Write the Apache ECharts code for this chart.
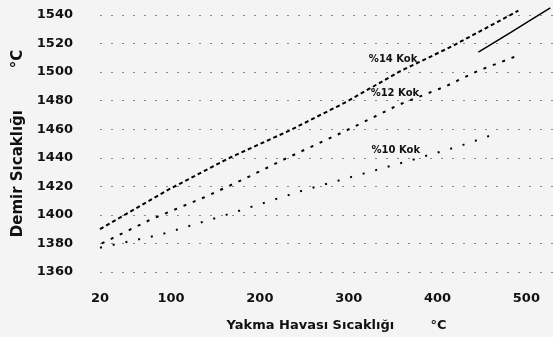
<!DOCTYPE html>
<html>
<head>
<meta charset="utf-8">
<script src="https://cdn.jsdelivr.net/npm/echarts@6/dist/echarts.min.js"></script>
<style>html,body{margin:0;padding:0;background:#f4f4f4;}#c{width:553px;height:337px;}</style>
</head>
<body>
<div id="c"></div>
<script>
// X: Yakma Havası Sıcaklığı (°C), Y: Demir Sıcaklığı (°C)
const xTicks = [20, 100, 200, 300, 400, 500];
const lineA = [[20,1390],[98,1418],[166,1440],[233,1459],[297,1479],[356,1500],[416,1518],[491,1543]];
const lineB = [[22,1380],[78,1397],[140,1413],[185,1426],[231,1440],[297,1459],[356,1477],[409,1490],[446,1501],[488,1511]];
const lineC = [[20,1377],[87,1386],[162,1400],[248,1417],[323,1430],[374,1439],[424,1448],[466,1457]];
const lineD = [[446,1514],[483,1528],[506,1537],[527,1545]];
const lineLabels = ['%14 Kok', '%12 Kok', '%10 Kok'];
const labelPos = [[350,1509],[352,1485],[353,1445]];

const FONT = 'DejaVu Sans';
const chart = echarts.init(document.getElementById('c'), null, {renderer: 'canvas'});

function lbl(i) {
  return {
    symbol: 'rect', symbolSize: [1, 1],
    itemStyle: {color: 'rgba(0,0,0,0)'},
    data: [{coord: labelPos[i], value: lineLabels[i]}],
    label: {show: true, formatter: lineLabels[i], color: '#111', fontFamily: FONT, fontWeight: 'bold', fontSize: 10, position: 'inside'}
  };
}

chart.setOption({
  backgroundColor: '#f4f4f4',
  animation: false,
  grid: {left: 100, right: -2, top: 15, bottom: 61},
  xAxis: {
    type: 'value', min: 20, max: 530,
    name: 'Yakma Havası Sıcaklığı        °C',
    nameLocation: 'middle', nameGap: 47,
    nameTextStyle: {fontFamily: FONT, fontWeight: 'bold', fontSize: 13, color: '#111', padding: [0, 0, 0, 20]},
    axisLine: {show: false}, axisTick: {show: false, customValues: xTicks},
    splitLine: {show: false},
    axisLabel: {customValues: xTicks, margin: 20, fontFamily: FONT, fontWeight: 'bold', fontSize: 13, color: '#111'}
  },
  yAxis: {
    type: 'value', min: 1360, max: 1540, interval: 20,
    name: 'Demir Sıcaklığı        °C',
    nameLocation: 'middle', nameGap: 72, nameRotate: 90,
    nameTextStyle: {fontFamily: FONT, fontWeight: 'bold', fontSize: 15, color: '#111'},
    axisLine: {show: false}, axisTick: {show: false},
    splitLine: {show: true, lineStyle: {color: '#888', width: 1, type: [2, 9]}},
    axisLabel: {margin: 27, fontFamily: FONT, fontWeight: 'bold', fontSize: 13, color: '#111', formatter: v => String(v)}
  },
  series: [
    {type: 'line', data: lineA, clip: false, symbol: 'none', lineStyle: {color: '#000', width: 2, type: [4, 3]}, markPoint: lbl(0)},
    {type: 'line', data: lineB, clip: false, symbol: 'none', lineStyle: {color: '#000', width: 2, type: [3, 7]}, markPoint: lbl(1)},
    {type: 'line', data: lineC, clip: false, symbol: 'none', lineStyle: {color: '#000', width: 2, type: [2, 11]}, markPoint: lbl(2)},
    {type: 'line', data: lineD, clip: false, symbol: 'none', lineStyle: {color: '#000', width: 1.5}}
  ]
});
</script>
</body>
</html>
